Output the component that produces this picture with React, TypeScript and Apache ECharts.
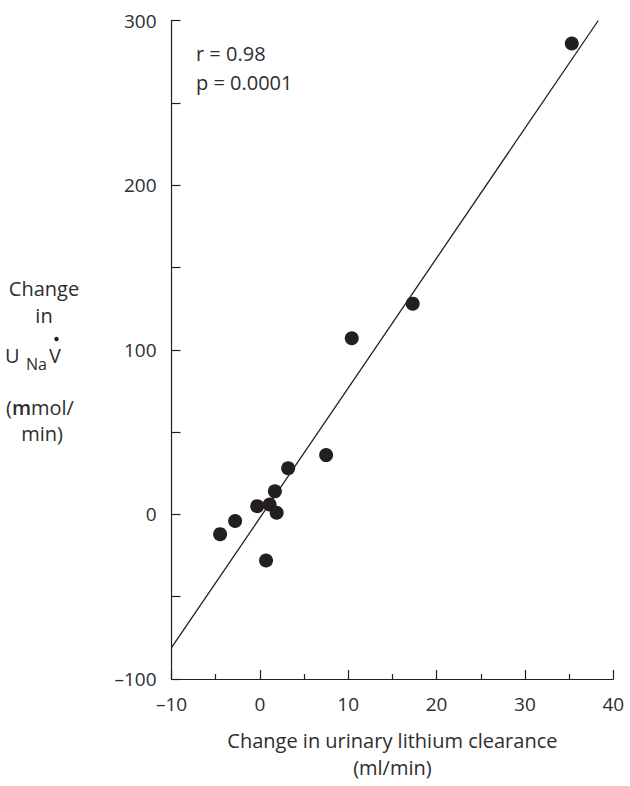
import React, { useEffect, useRef } from "react";
import * as echarts from "echarts";

// Data
const lithiumClearanceChange = [35.3, 17.3, 10.4, 7.5, 3.2, 1.7, -0.3, 1.1, 1.9, -2.8, -4.5, 0.7];
const sodiumExcretionChange = [286, 128, 107, 36, 28, 14, 5, 6, 1, -4, -12, -28];
const fitX = [-10, 38.3];
const fitY = [-81, 300];
const xTicks = { min: -10, max: 40, interval: 10 };
const yTicks = { min: -100, max: 300, interval: 100 };
const statLines = ["r = 0.98", "p = 0.0001"];
const xTitle = "Change in urinary lithium clearance\n(ml/min)";

const FONT = "'Open Sans', 'Liberation Sans', sans-serif";
const TXT = "#2e2e2e";
const INK = "#231f20";

export default function App() {
  const ref = useRef<HTMLDivElement>(null);
  useEffect(() => {
    if (!ref.current) return;
    const chart = echarts.init(ref.current, null, { renderer: "svg" });
    const pts = lithiumClearanceChange.map((x, i) => [x, sodiumExcretionChange[i]]);
    const fit = fitX.map((x, i) => [x, fitY[i]]);
    const dash = (v: number) => String(v).replace("-", "\u2013");
    const t = (text: string, x: number, y: number, size: number, align = "center") => ({
      type: "text",
      style: { text, x, y, fill: TXT, font: `${size}px ${FONT}`, textAlign: align, textVerticalAlign: "middle" },
    });
    chart.setOption({
      animation: false,
      textStyle: { fontFamily: FONT },
      grid: { left: 171.5, top: 20.5, right: 16.7, bottom: 99.7 },
      xAxis: {
        type: "value",
        min: xTicks.min,
        max: xTicks.max,
        interval: xTicks.interval,
        splitLine: { show: false },
        axisLine: { onZero: false, lineStyle: { color: INK, width: 1.2 } },
        axisTick: { inside: true, length: 9, lineStyle: { color: INK, width: 1.2 } },
        minorTick: { show: true, splitNumber: 2, length: 5, lineStyle: { color: INK, width: 1.2 } },
        axisLabel: { color: TXT, fontSize: 19, margin: 15, fontFamily: FONT, formatter: dash },
        name: xTitle,
        nameLocation: "middle",
        nameGap: 48,
        nameTextStyle: { color: TXT, fontSize: 20, lineHeight: 27, fontFamily: FONT },
      },
      yAxis: {
        type: "value",
        min: yTicks.min,
        max: yTicks.max,
        interval: yTicks.interval,
        splitLine: { show: false },
        axisLine: { show: true, onZero: false, lineStyle: { color: INK, width: 1.2 } },
        axisTick: { show: true, inside: true, length: 9, lineStyle: { color: INK, width: 1.2 } },
        minorTick: { show: true, splitNumber: 2, length: 9, lineStyle: { color: INK, width: 1.2 } },
        axisLabel: { color: TXT, fontSize: 19, margin: 15, fontFamily: FONT, formatter: dash },
      },
      graphic: [
        t("Change", 44, 288, 20),
        t("in", 44, 315, 20),
        t("U", 5, 355, 20, "left"),
        t("Na", 26, 364, 16, "left"),
        t("V", 49, 355, 20, "left"),
        { type: "circle", shape: { cx: 56.5, cy: 339, r: 2.2 }, style: { fill: INK } },
        {
          type: "text",
          style: {
            text: "({b|m}mol/",
            x: 40,
            y: 407,
            fill: TXT,
            font: `20px ${FONT}`,
            textAlign: "center",
            textVerticalAlign: "middle",
            rich: { b: { fontFamily: FONT, fontSize: 20, fontWeight: 600, fill: TXT } },
          },
        },
        t("min)", 42, 433, 20),
        t(statLines[0], 196, 53, 20, "left"),
        t(statLines[1], 196, 82, 20, "left"),
      ],
      series: [
        {
          type: "line",
          data: fit,
          symbol: "none",
          lineStyle: { color: INK, width: 1.3 },
          silent: true,
          z: 1,
        },
        {
          type: "scatter",
          data: pts,
          symbol: "circle",
          symbolSize: 14,
          itemStyle: { color: INK, opacity: 1 },
          z: 2,
        },
      ],
    });
    return () => chart.dispose();
  }, []);
  return <div ref={ref} style={{ width: 630, height: 786, position: "absolute", left: 0, top: 0 }} />;
}
